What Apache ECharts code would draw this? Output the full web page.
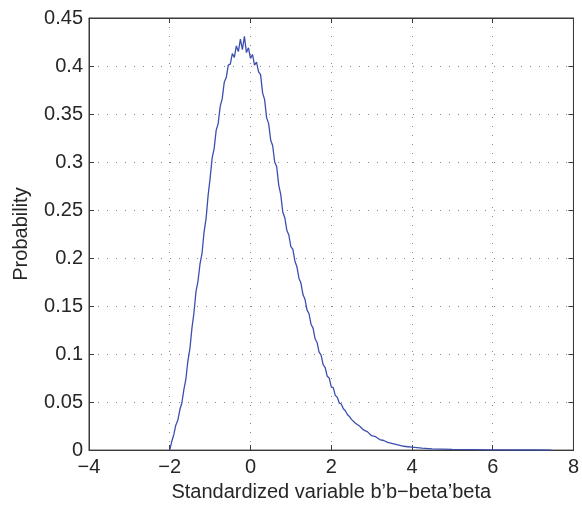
<!DOCTYPE html>
<html>
<head>
<meta charset="utf-8">
<script src="https://cdn.jsdelivr.net/npm/echarts@6/dist/echarts.min.js"></script>
<style>
html,body{margin:0;padding:0;background:#fff;}
#chart{width:582px;height:507px;}
</style>
</head>
<body>
<div id="chart"></div>
<script>
const xValues = [
 -2.00,-1.95,-1.90,-1.85,-1.80,-1.75,-1.70,-1.65,-1.60,-1.55,-1.50,-1.45,-1.40,-1.35,-1.30,-1.25,-1.20,-1.15,-1.10,-1.05,
 -1.00,-0.95,-0.90,-0.85,-0.80,-0.75,-0.70,-0.65,-0.60,-0.55,-0.50,-0.45,-0.40,-0.35,-0.30,-0.25,-0.20,-0.15,-0.10,-0.05,
 0.00,0.05,0.10,0.15,0.20,0.25,0.30,0.35,0.40,0.45,0.50,0.55,0.60,0.65,0.70,0.75,0.80,0.85,0.90,0.95,
 1.00,1.05,1.10,1.15,1.20,1.25,1.30,1.35,1.40,1.45,1.50,1.55,1.60,1.65,1.70,1.75,1.80,1.85,1.90,1.95,
 2.00,2.05,2.10,2.15,2.20,2.25,2.30,2.35,2.40,2.45,2.50,
 2.6,2.7,2.8,2.9,3.0,3.1,3.2,3.3,3.4,3.5,3.6,3.7,3.8,3.9,4.0,
 4.25,4.5,4.75,5.0,5.5,6.0,6.5,7.0,7.45
];
const probability = [
 0.000,0.009,0.016,0.026,0.031,0.042,0.049,0.063,0.074,0.093,0.106,0.127,0.143,0.165,0.176,0.194,0.205,0.227,0.241,0.265,
 0.283,0.304,0.314,0.333,0.340,0.358,0.366,0.383,0.388,0.401,0.402,0.413,0.409,0.421,0.415,0.428,0.417,0.431,0.414,0.419,
 0.408,0.412,0.401,0.404,0.394,0.391,0.372,0.365,0.346,0.340,0.323,0.317,0.300,0.295,0.276,0.266,0.248,0.242,0.229,0.224,
 0.212,0.209,0.197,0.191,0.179,0.174,0.162,0.157,0.146,0.142,0.131,0.127,0.116,0.112,0.102,0.099,0.089,0.086,0.077,0.075,
 0.066,0.065,0.057,0.055,0.049,0.048,0.043,0.041,0.037,0.035,0.032,
 0.028,0.025,0.021,0.019,0.015,0.014,0.011,0.010,0.008,0.007,0.006,0.005,0.004,0.0035,0.003,
 0.002,0.0013,0.001,0.0007,0.0004,0.0002,0.0001,0.0001,0.0
];
const xTicks = [-4,-2,0,2,4,6,8];
const yTicks = [0,0.05,0.1,0.15,0.2,0.25,0.3,0.35,0.4,0.45];
const xLabel = 'Standardized variable b\u2019b\u2212beta\u2019beta';
const yLabel = 'Probability';

const seriesData = xValues.map((x, i) => [x, probability[i]]);
const FONT = '"Liberation Sans", Arial, Helvetica, sans-serif';
const TXT = '#262626';
const AX = '#3a3a3a';
const FS = 20;

const chart = echarts.init(document.getElementById('chart'), null, {renderer: 'canvas'});
chart.setOption({
  animation: false,
  backgroundColor: '#fff',
  grid: {left: 89, right: 3, top: 18, bottom: 53, show: true, borderColor: AX, borderWidth: 1, backgroundColor: 'transparent'},
  xAxis: [{
    type: 'value', min: xTicks[0], max: xTicks[xTicks.length-1], interval: 2,
    name: xLabel, nameLocation: 'middle', nameGap: 29,
    nameTextStyle: {fontFamily: FONT, fontSize: FS, color: TXT},
    axisLine: {show: true, onZero: false, lineStyle: {color: AX, width: 1}},
    axisTick: {show: true, inside: true, length: 5, lineStyle: {color: AX}},
    axisLabel: {fontFamily: FONT, fontSize: FS, color: TXT, margin: 7,
      formatter: v => (v < 0 ? '\u2212' + Math.abs(v) : String(v))},
    splitLine: {show: true, lineStyle: {color: '#8a8a8a', type: [1, 8], width: 1}}
  }, {
    type: 'value', position: 'top', min: xTicks[0], max: xTicks[xTicks.length-1], interval: 2,
    axisLine: {show: true, onZero: false, lineStyle: {color: AX}},
    axisTick: {show: true, inside: true, length: 5, lineStyle: {color: AX}},
    axisLabel: {show: false}, splitLine: {show: false}
  }],
  yAxis: [{
    type: 'value', min: 0, max: 0.45, interval: 0.05,
    name: yLabel, nameLocation: 'middle', nameGap: 58, nameRotate: 90,
    nameTextStyle: {fontFamily: FONT, fontSize: FS, color: TXT},
    axisLine: {show: true, onZero: false, lineStyle: {color: AX, width: 1}},
    axisTick: {show: true, inside: true, length: 5, lineStyle: {color: AX}},
    axisLabel: {fontFamily: FONT, fontSize: FS, color: TXT, margin: 6,
      formatter: v => String(parseFloat(v.toFixed(2)))},
    splitLine: {show: true, lineStyle: {color: '#8a8a8a', type: [1, 8], width: 1}}
  }, {
    type: 'value', position: 'right', min: 0, max: 0.45, interval: 0.05,
    axisLine: {show: true, onZero: false, lineStyle: {color: AX}},
    axisTick: {show: true, inside: true, length: 5, lineStyle: {color: AX}},
    axisLabel: {show: false}, splitLine: {show: false}
  }],
  series: [{
    type: 'line', data: seriesData, showSymbol: false, symbol: 'none',
    lineStyle: {color: '#3b4fae', width: 1.3}, itemStyle: {color: '#3b4fae'}
  }]
});
</script>
</body>
</html>
